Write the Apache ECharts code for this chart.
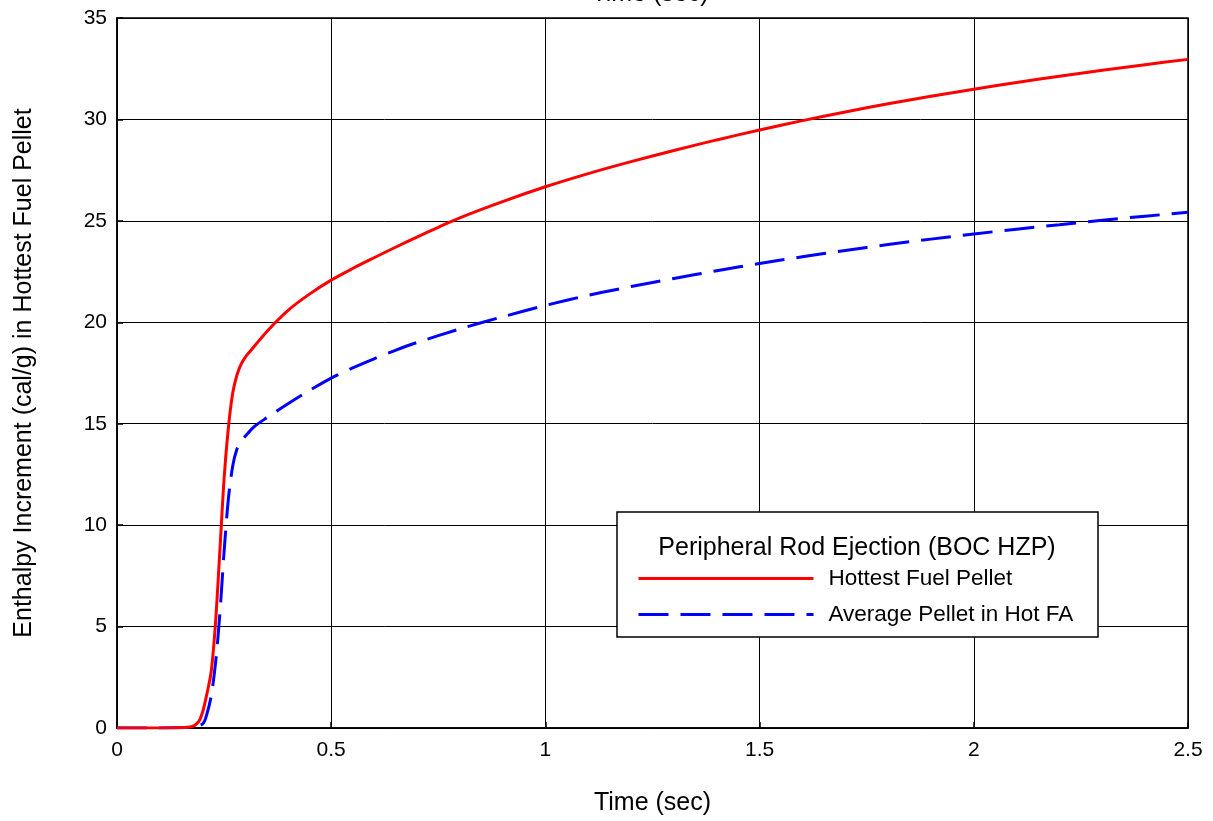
<!DOCTYPE html>
<html>
<head>
<meta charset="utf-8">
<script src="https://cdn.jsdelivr.net/npm/echarts@6/dist/echarts.min.js"></script>
<style>
  html, body { margin: 0; padding: 0; background: #fff; }
  #chart { width: 1213px; height: 821px; }
</style>
</head>
<body>
<div id="chart"></div>
<script>
// Time axis ticks (sec) and enthalpy axis ticks (cal/g)
const xTicks = [0, 0.5, 1, 1.5, 2, 2.5];
const yTicks = [0, 5, 10, 15, 20, 25, 30, 35];

// Hottest fuel pellet: time (sec)
const hotTime = [0, 0.1, 0.17, 0.19, 0.2, 0.21, 0.22, 0.23, 0.24, 0.25, 0.26, 0.27, 0.28, 0.29, 0.30,
  0.31, 0.35, 0.4, 0.45, 0.5, 0.55, 0.6, 0.65, 0.7, 0.75, 0.8, 0.9, 1.0, 1.1, 1.2, 1.3, 1.4, 1.5, 1.6,
  1.7, 1.8, 1.9, 2.0, 2.1, 2.2, 2.3, 2.4, 2.5];
// Hottest fuel pellet: enthalpy increment (cal/g)
const hotEnthalpy = [0, 0, 0.05, 0.3, 0.8, 1.7, 2.8, 5.2, 8.7, 12.3, 14.8, 16.5, 17.4, 17.95, 18.3,
  18.55, 19.55, 20.6, 21.4, 22.08, 22.65, 23.18, 23.7, 24.2, 24.68, 25.15, 25.95, 26.68, 27.33, 27.92, 28.47,
  28.99, 29.48, 29.94, 30.37, 30.77, 31.14, 31.49, 31.82, 32.13, 32.42, 32.7, 32.96];

// Average pellet in hot fuel assembly: time (sec)
const avgTime = [0, 0.17, 0.2, 0.21, 0.22, 0.23, 0.24, 0.25, 0.26, 0.27, 0.28, 0.29, 0.30, 0.32,
  0.35, 0.4, 0.45, 0.5, 0.55, 0.6, 0.65, 0.7, 0.8, 0.9, 1.0, 1.1, 1.2, 1.3, 1.4, 1.5, 1.6, 1.7, 1.8,
  1.9, 2.0, 2.1, 2.2, 2.3, 2.4, 2.5];
// Average pellet in hot fuel assembly: enthalpy increment (cal/g)
const avgEnthalpy = [0, 0.02, 0.2, 0.7, 1.6, 3.2, 5.6, 8.7, 11.3, 12.9, 13.75, 14.15, 14.4, 14.85,
  15.3, 16.0, 16.65, 17.25, 17.75, 18.2, 18.62, 19.0, 19.67, 20.27, 20.83, 21.33, 21.76, 22.16, 22.54,
  22.9, 23.23, 23.54, 23.83, 24.1, 24.35, 24.59, 24.81, 25.03, 25.23, 25.42];

const seriesNames = ['Hottest Fuel Pellet', 'Average Pellet in Hot FA'];
const legendTitle = 'Peripheral Rod Ejection (BOC HZP)';
const xName = 'Time (sec)';
const yName = 'Enthalpy Increment (cal/g) in Hottest Fuel Pellet';

const pair = (xs, ys) => xs.map((x, i) => [x, ys[i]]);

const font = 'Liberation Sans, Arial, sans-serif';
const chart = echarts.init(document.getElementById('chart'));

chart.setOption({
  animation: false,
  backgroundColor: '#fff',
  grid: {
    left: 117, right: 25, top: 18, bottom: 93,
    outerBoundsMode: 'none',
    containLabel: false,
    show: true, borderColor: '#000', borderWidth: 1.5
  },
  xAxis: {
    type: 'value', min: 0, max: 2.5, interval: 0.5,
    name: xName, nameLocation: 'middle', nameGap: 63,
    nameTextStyle: { fontFamily: font, fontSize: 25, color: '#000' },
    axisLine: { lineStyle: { color: '#000', width: 1.5 } },
    axisTick: { inside: true, length: 6, lineStyle: { color: '#000', width: 1.5 } },
    axisLabel: {
      margin: 12, fontFamily: font, fontSize: 21, color: '#000',
      formatter: v => xTicks.includes(v) ? String(v) : ''
    },
    splitLine: { lineStyle: { color: '#000', width: 1 } }
  },
  yAxis: {
    type: 'value', min: 0, max: 35, interval: 5,
    name: yName, nameLocation: 'middle', nameGap: 80,
    nameTextStyle: { fontFamily: font, fontSize: 25, color: '#000' },
    axisLine: { show: true, lineStyle: { color: '#000', width: 1.5 } },
    axisTick: { show: true, inside: true, length: 6, lineStyle: { color: '#000', width: 1.5 } },
    axisLabel: {
      margin: 10, fontFamily: font, fontSize: 21, color: '#000',
      formatter: v => yTicks.includes(v) ? String(v) : ''
    },
    splitLine: { lineStyle: { color: '#000', width: 1 } }
  },
  legend: {
    data: seriesNames,
    orient: 'vertical',
    left: 637, top: 567,
    padding: 0,
    z: 100,
    itemWidth: 175, itemHeight: 14, itemGap: 13,
    itemStyle: { opacity: 0 },
    lineStyle: { width: 3 },
    textStyle: { fontFamily: font, fontSize: 22.5, color: '#000', padding: [0, 0, 0, 10] },
    backgroundColor: 'transparent'
  },
  graphic: [
    {
      type: 'rect', z: 50,
      shape: { x: 617, y: 512, width: 481, height: 125 },
      style: { fill: '#fff', stroke: '#000', lineWidth: 1.5 }
    },
    {
      type: 'text', z: 51, x: 857, y: 548,
      style: {
        text: legendTitle, fontFamily: font, fontSize: 25, fill: '#000',
        align: 'center', verticalAlign: 'middle'
      }
    },
    {
      type: 'text', z: 51, x: 650, y: -6,
      style: {
        text: xName, fontFamily: font, fontSize: 25, fill: '#000',
        align: 'center', verticalAlign: 'middle'
      }
    }
  ],
  series: [
    {
      name: seriesNames[0], type: 'line', data: pair(hotTime, hotEnthalpy),
      showSymbol: false, symbol: 'none', smooth: 0.3, z: 3,
      lineStyle: { color: '#ff0000', width: 3 },
      itemStyle: { color: '#ff0000' }
    },
    {
      name: seriesNames[1], type: 'line', data: pair(avgTime, avgEnthalpy),
      showSymbol: false, symbol: 'none', smooth: 0.3, z: 2,
      lineStyle: { color: '#0000ff', width: 3, type: [30, 12] },
      itemStyle: { color: '#0000ff' }
    }
  ]
});
</script>
</body>
</html>
